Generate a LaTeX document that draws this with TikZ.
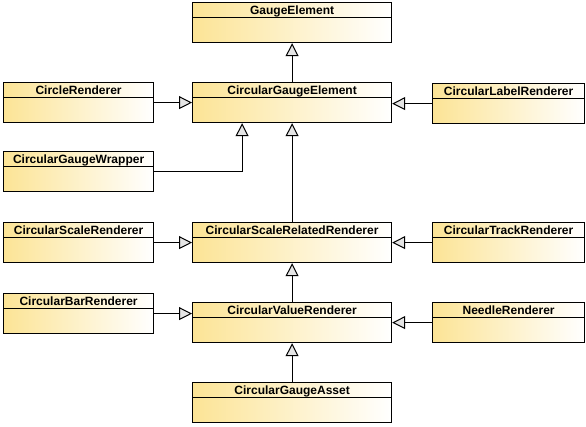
\documentclass[tikz,border=0pt]{standalone}
\usepackage{fontspec}
\setmainfont{Liberation Sans}
\usetikzlibrary{arrows.meta}
\definecolor{classyellow}{RGB}{252,228,150}
\tikzset{
    % class box: title on top, empty body below
    classbox/.style={
        draw=black, line width=1.2pt,
        left color=classyellow, right color=white,
        anchor=north west, inner xsep=0pt, inner ysep=0pt,
        text height=12pt, text depth=28pt,
        font=\fontsize{12}{14}\selectfont\bfseries,
        path picture={
            \draw[line width=1pt] ([yshift=-15pt]path picture bounding box.north west)
                -- ([yshift=-15pt]path picture bounding box.north east);
        }
    },
    midclass/.style={classbox, minimum width=199pt},
    leftclass/.style={classbox, minimum width=150pt},
    rightclass/.style={classbox, minimum width=152pt},
    inherit/.style={line width=1pt, -{Triangle[fill=gray!20, length=13pt, width=13pt]}}
}
\begin{document}
\begin{tikzpicture}[x=1pt,y=-1pt]
    \useasboundingbox (0,0) rectangle (586,426);
    % middle column
    \node[midclass] (ge) at (192,2) {GaugeElement};
    \node[midclass] (cge) at (192,82) {CircularGaugeElement};
    \node[midclass] (csrr) at (192,222) {CircularScaleRelatedRenderer};
    \node[midclass] (cvr) at (192,302) {CircularValueRenderer};
    \node[midclass] (cga) at (192,382) {CircularGaugeAsset};
    % left column
    \node[leftclass] (cr) at (3,82) {CircleRenderer};
    \node[leftclass] (cgw) at (3,151) {CircularGaugeWrapper};
    \node[leftclass] (csr) at (3,222) {CircularScaleRenderer};
    \node[leftclass] (cbr) at (3,293) {CircularBarRenderer};
    % right column
    \node[rightclass] (clr) at (432,83) {CircularLabelRenderer};
    \node[rightclass] (ctr) at (432,222) {CircularTrackRenderer};
    \node[rightclass] (nr) at (432,302) {NeedleRenderer};

    % generalizations
    \draw[inherit] (cge.north) -- (ge.south);
    \draw[inherit] (cr.east) -- (cr.east -| cge.west);
    \draw[inherit] (clr.west) -- (clr.west -| cge.east);
    \draw[inherit] (cgw.east) -| ([xshift=-50pt]cge.south);
    \draw[inherit] (csrr.north) -- (cge.south);
    \draw[inherit] (csr.east) -- (csrr.west);
    \draw[inherit] (ctr.west) -- (csrr.east);
    \draw[inherit] (cvr.north) -- (csrr.south);
    \draw[inherit] (cbr.east) -- (cbr.east -| cvr.west);
    \draw[inherit] (nr.west) -- (cvr.east);
    \draw[inherit] (cga.north) -- (cvr.south);
\end{tikzpicture}
\end{document}
